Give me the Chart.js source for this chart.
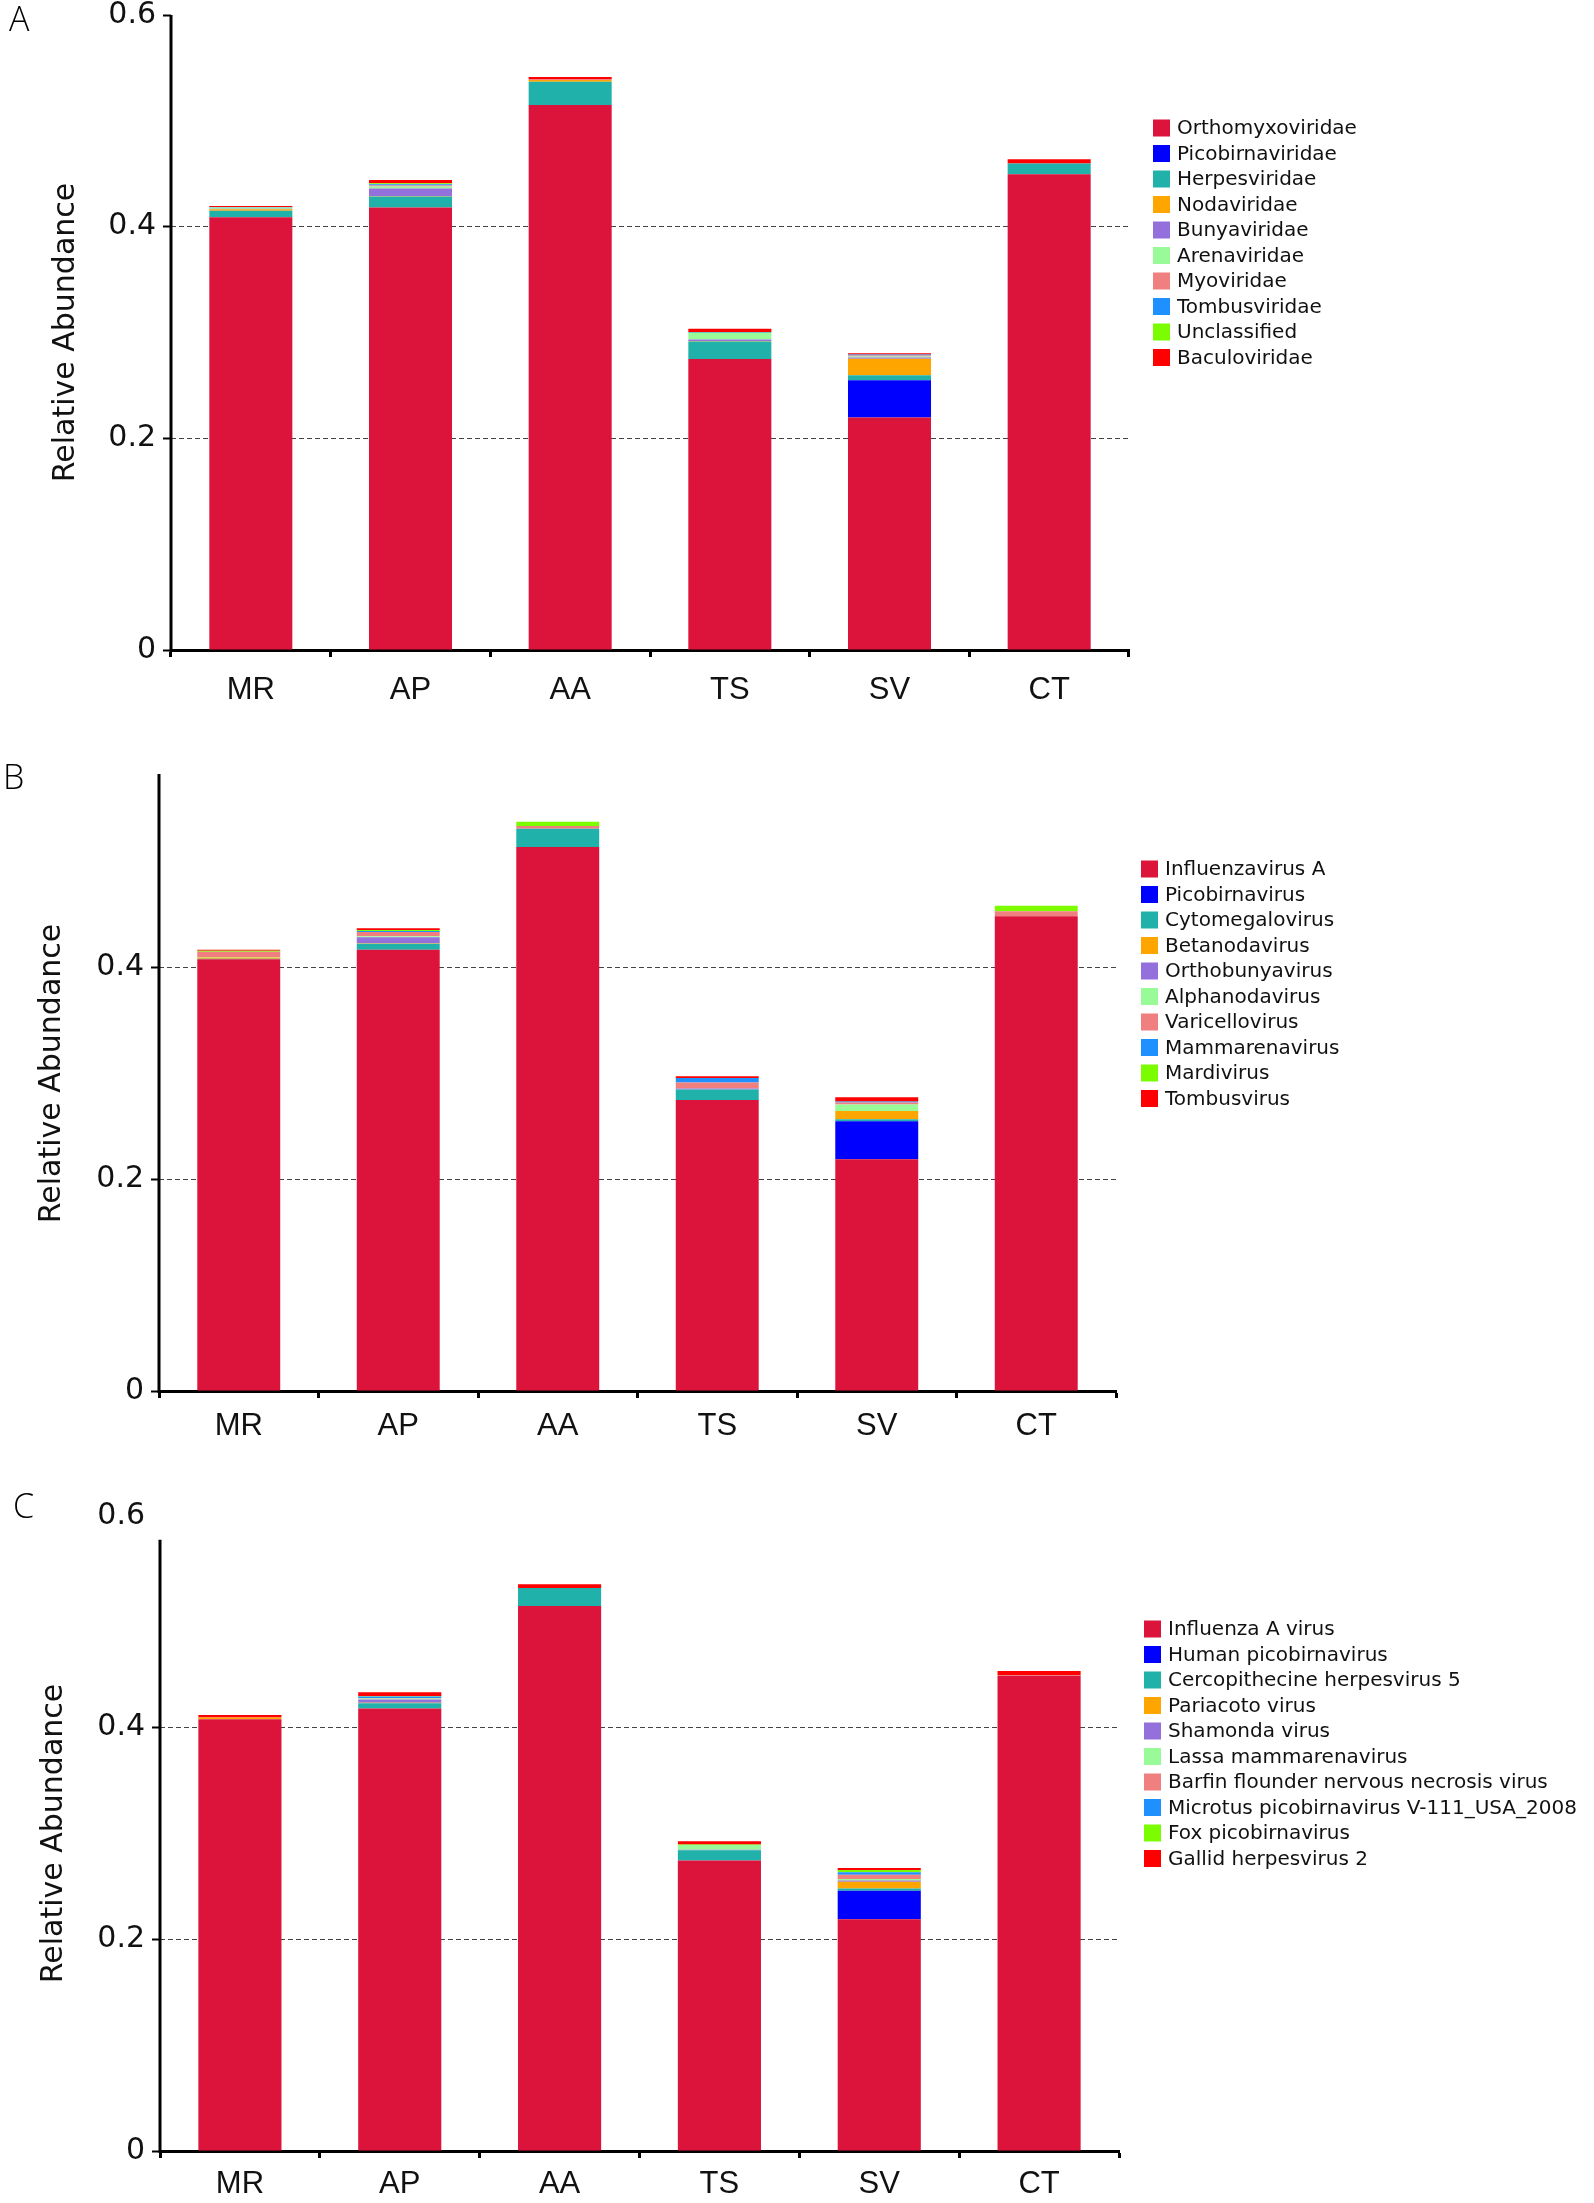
<!DOCTYPE html>
<html>
<head>
<meta charset="utf-8">
<script src="https://cdn.jsdelivr.net/npm/chart.js@4.4.0/dist/chart.umd.min.js"></script>
<style>
  html, body { margin: 0; padding: 0; background: #fff; }
  #page { position: relative; width: 1594px; height: 2203px; overflow: hidden; background: #fff; }
  .panel { position: absolute; left: 0; width: 1594px; }
  .panel canvas { display: block; }
  .letter { position: absolute; font-family: 'Open Sans', sans-serif; font-weight: 300; font-size: 34px; line-height: 1; color: #000; }
</style>
</head>
<body>
<div id="page">
  <div class="panel" style="top:-7px;height:727px"><canvas id="chartA" width="1594" height="727"></canvas></div>
  <div class="panel" style="top:734px;height:740px"><canvas id="chartB" width="1594" height="740"></canvas></div>
  <div class="panel" style="top:1494px;height:709px"><canvas id="chartC" width="1594" height="709"></canvas></div>
  <div class="letter" style="left:9px;top:1px">A</div>
  <div class="letter" style="left:3px;top:759px">B</div>
  <div class="letter" style="left:13px;top:1488px">C</div>
</div>
<script>
// samples on the x axis
const categories = ['MR', 'AP', 'AA', 'TS', 'SV', 'CT'];

// same colour order in all three panels
const seriesColors = ['#DC143C', '#0000FF', '#20B2AA', '#FFA500', '#9370DB',
                      '#98FB98', '#F08080', '#1E90FF', '#7CFC00', '#FF0000'];

// A - family level
const familyLabels = ['Orthomyxoviridae', 'Picobirnaviridae', 'Herpesviridae', 'Nodaviridae', 'Bunyaviridae',
                      'Arenaviridae', 'Myoviridae', 'Tombusviridae', 'Unclassified', 'Baculoviridae'];
const orthomyxoviridae = [0.409, 0.418, 0.515, 0.275, 0.2196, 0.4496];
const picobirnaviridae = [0, 0, 0, 0, 0.0354, 0];
const herpesviridae    = [0.006, 0.0105, 0.022, 0.0165, 0.0047, 0.0100];
const nodaviridae      = [0.0015, 0.0005, 0.0015, 0.0005, 0.0156, 0];
const bunyaviridae     = [0.0005, 0.007, 0, 0.0015, 0.001, 0];
const arenaviridae     = [0.001, 0.002, 0, 0.006, 0.001, 0];
const myoviridae       = [0, 0.001, 0.0005, 0, 0.001, 0];
const tombusviridae    = [0.0005, 0.001, 0, 0.0005, 0.001, 0];
const unclassified     = [0, 0.001, 0, 0.0005, 0, 0];
const baculoviridae    = [0.001, 0.003, 0.0025, 0.003, 0.0012, 0.004];

// B - genus level
const genusLabels = ['Influenzavirus A', 'Picobirnavirus', 'Cytomegalovirus', 'Betanodavirus', 'Orthobunyavirus',
                     'Alphanodavirus', 'Varicellovirus', 'Mammarenavirus', 'Mardivirus', 'Tombusvirus'];
const influenzavirusA = [0.408, 0.417, 0.514, 0.275, 0.219, 0.4487];
const picobirnavirus  = [0, 0, 0, 0, 0.0358, 0];
const cytomegalovirus = [0.0005, 0.0056, 0.0172, 0.0099, 0.002, 0];
const betanodavirus   = [0.001, 0.0005, 0, 0, 0.0078, 0];
const orthobunyavirus = [0, 0.0056, 0, 0.001, 0, 0];
const alphanodavirus  = [0.0005, 0.001, 0, 0, 0.006, 0];
const varicellovirus  = [0.005, 0.004, 0.0026, 0.0056, 0.002, 0.0047];
const mammarenavirus  = [0, 0.001, 0, 0.0043, 0.001, 0];
const mardivirus      = [0.001, 0.001, 0.004, 0, 0, 0.0052];
const tombusvirus     = [0.001, 0.0015, 0, 0.0016, 0.004, 0];

// C - species level
const speciesLabels = ['Influenza A virus', 'Human picobirnavirus', 'Cercopithecine herpesvirus 5', 'Pariacoto virus',
                       'Shamonda virus', 'Lassa mammarenavirus', 'Barfin flounder nervous necrosis virus',
                       'Microtus picobirnavirus V-111_USA_2008', 'Fox picobirnavirus', 'Gallid herpesvirus 2'];
const influenzaAVirus     = [0.408, 0.418, 0.515, 0.2746, 0.219, 0.449];
const humanPicobirnavirus = [0, 0, 0, 0, 0.027, 0];
const cercopithecineHV5   = [0, 0.005, 0.0169, 0.0095, 0.002, 0];
const pariacotoVirus      = [0.0015, 0.0005, 0, 0, 0.0065, 0];
const shamondaVirus       = [0, 0.003, 0, 0.0005, 0.001, 0];
const lassaMammarenavirus = [0, 0.001, 0, 0.0045, 0.0015, 0];
const barfinFlounderNNV   = [0, 0.0005, 0, 0, 0.004, 0.0005];
const microtusPicobirna   = [0, 0.0015, 0, 0, 0.0025, 0];
const foxPicobirnavirus   = [0, 0.0005, 0, 0.0005, 0.002, 0];
const gallidHerpesvirus2  = [0.0025, 0.0035, 0.0035, 0.003, 0.002, 0.004];

// y tick labels
const yTicksFull = [0, 0.2, 0.4, 0.6];
const yTicksShort = [0, 0.2, 0.4];

// draws the y axis line, only up to where the original one stops
const axisLine = {
  id: 'axisLine',
  afterDatasetsDraw(chart, args, opts) {
    const y = chart.scales.y;
    const ctx = chart.ctx;
    const x = chart.chartArea.left;
    ctx.save();
    ctx.strokeStyle = '#000';
    ctx.lineWidth = 3;
    ctx.beginPath();
    ctx.moveTo(x, y.getPixelForValue(0) + 2);
    ctx.lineTo(x, y.getPixelForValue(opts.top));
    ctx.stroke();
    ctx.restore();
  }
};

// legend on the right, built from the datasets
const sideLegend = {
  id: 'sideLegend',
  afterDraw(chart, args, opts) {
    const ctx = chart.ctx;
    const area = chart.chartArea;
    ctx.save();
    ctx.font = '20px "DejaVu Sans"';
    ctx.textBaseline = 'middle';
    chart.data.datasets.forEach((ds, i) => {
      const x = area.right + opts.gap;
      const y = area.top + opts.firstRow + i * opts.rowHeight;
      ctx.fillStyle = ds.backgroundColor;
      ctx.fillRect(x, y - 8.5, 17, 17);
      ctx.fillStyle = '#111';
      ctx.fillText(ds.label, x + opts.textOffset, y + 1);
    });
    ctx.restore();
  }
};

function makeDatasets(labels, series) {
  return labels.map((label, i) => ({
    label: label,
    data: series[i],
    backgroundColor: seriesColors[i],
    borderWidth: 0,
    barPercentage: 0.52,
    categoryPercentage: 1
  }));
}

function makeChart(id, labels, series, p) {
  new Chart(document.getElementById(id), {
    type: 'bar',
    data: { labels: categories, datasets: makeDatasets(labels, series) },
    options: {
      responsive: false,
      animation: false,
      layout: { padding: { left: 0, top: 20, right: 1594 - p.xEnd, bottom: 0 } },
      plugins: {
        legend: { display: false },
        tooltip: { enabled: false },
        axisLine: { top: p.axisTop },
        sideLegend: { gap: p.legendGap, firstRow: 113, rowHeight: 25.5, textOffset: 24 }
      },
      scales: {
        x: {
          stacked: true,
          offset: true,
          grid: { offset: true, drawOnChartArea: false, drawTicks: true, tickLength: 7, tickWidth: 3, tickColor: '#000' },
          border: { display: true, color: '#000', width: 3 },
          ticks: {
            font: { family: 'Liberation Sans', size: 31, lineHeight: 1 },
            color: '#111',
            padding: p.xPad,
            maxRotation: 0
          },
          afterFit: s => { s.height = p.xHeight; }
        },
        y: {
          stacked: true,
          min: 0,
          max: 0.6,
          afterBuildTicks: s => { s.ticks = p.yTicks.map(v => ({ value: v })); },
          grid: {
            color: c => (c.tick && (c.tick.value === 0.2 || c.tick.value === 0.4)) ? '#444' : 'rgba(0,0,0,0)',
            tickColor: c => (c.tick && c.tick.value <= p.axisTop) ? '#000' : 'rgba(0,0,0,0)',
            lineWidth: 1,
            tickLength: 8,
            tickWidth: 2
          },
          border: { display: false, dash: [5, 3] },
          ticks: {
            font: { family: 'DejaVu Sans', size: 30, lineHeight: 1 },
            color: '#111',
            padding: 7,
            callback: v => v === 0 ? '0' : v.toFixed(1)
          },
          title: {
            display: true,
            text: 'Relative Abundance',
            font: { family: 'DejaVu Sans', size: 30, lineHeight: 1 },
            color: '#111',
            padding: { top: p.titlePad, bottom: 0 }
          },
          afterFit: s => { s.width = p.axisX; }
        }
      }
    },
    plugins: [axisLine, sideLegend]
  });
}

makeChart('chartA', familyLabels,
  [orthomyxoviridae, picobirnaviridae, herpesviridae, nodaviridae, bunyaviridae,
   arenaviridae, myoviridae, tombusviridae, unclassified, baculoviridae],
  { axisX: 171, xEnd: 1129, axisTop: 0.6, yTicks: yTicksFull, titlePad: 51, xHeight: 70, xPad: 17.5, legendGap: 24 });

makeChart('chartB', genusLabels,
  [influenzavirusA, picobirnavirus, cytomegalovirus, betanodavirus, orthobunyavirus,
   alphanodavirus, varicellovirus, mammarenavirus, mardivirus, tombusvirus],
  { axisX: 159, xEnd: 1116, axisTop: 0.583, yTicks: yTicksShort, titlePad: 37, xHeight: 83, xPad: 12.5, legendGap: 25 });

makeChart('chartC', speciesLabels,
  [influenzaAVirus, humanPicobirnavirus, cercopithecineHV5, pariacotoVirus, shamondaVirus,
   lassaMammarenavirus, barfinFlounderNNV, microtusPicobirna, foxPicobirnavirus, gallidHerpesvirus2],
  { axisX: 160, xEnd: 1119, axisTop: 0.5775, yTicks: yTicksFull, titlePad: 39, xHeight: 52, xPad: 10.5, legendGap: 25 });
</script>
</body>
</html>
